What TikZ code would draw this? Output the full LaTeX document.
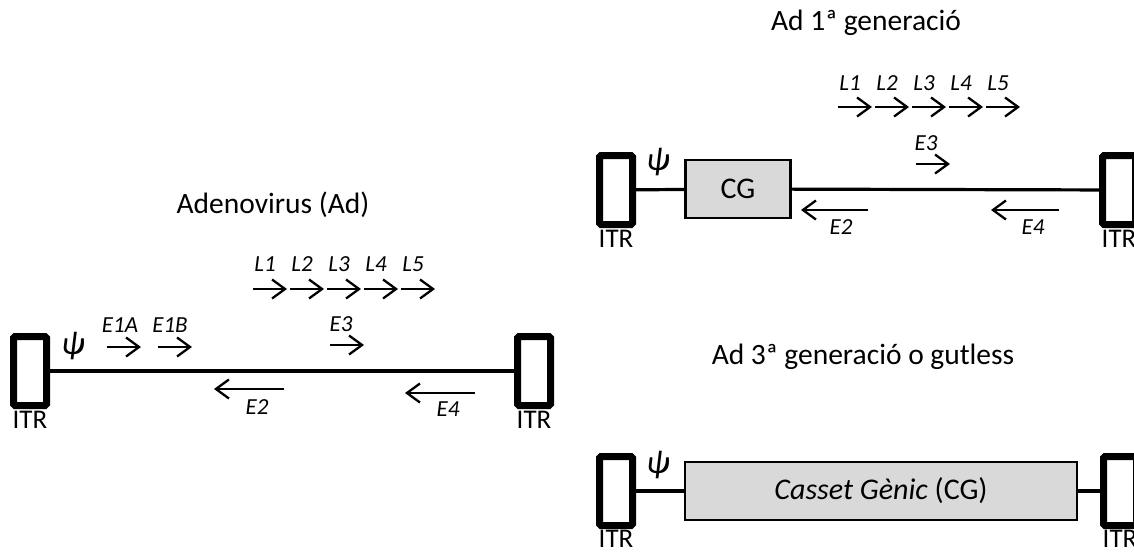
\documentclass[tikz,border=0pt]{standalone}
\usepackage{fontspec}
\setmainfont{Carlito}
\usetikzlibrary{arrows.meta,positioning}
\tikzset{
  itr/.style={draw, line width=7pt, rounded corners=1.5pt, minimum width=33pt, minimum height=69pt, inner sep=0pt},
  cgbox/.style={draw, line width=2.5pt, fill=black!15, minimum height=58pt, inner sep=0pt},
  dna/.style={line width=3.2pt},
  gene/.style={line width=2.3pt, -{Straight Barb[length=13pt, width=19pt]}},
  lab/.style={font=\fontsize{23}{27}\selectfont\itshape, inner sep=0pt},
  ttl/.style={font=\fontsize{29.5}{34}\selectfont, inner sep=0pt},
  itrlab/.style={font=\fontsize{27}{30}\selectfont, inner sep=0pt},
  psi/.style={font=\fontsize{33}{36}\selectfont\itshape, inner sep=0pt},
  cgtext/.style={font=\fontsize{30}{34}\selectfont}
}
\begin{document}
\begin{tikzpicture}[x=1pt,y=-1pt]
\useasboundingbox (0,0) rectangle (1134,554);
\clip (0,0) rectangle (1134,554);

% ---------------- Left: Adenovirus (Ad) ----------------
\node[ttl] (t1) at (273,205) {Adenovirus (Ad)};
\node[itr] (a1) at (30,371) {};
\node[itr] (b1) at (534,371) {};
\draw[dna] (a1) -- (b1);
\node[itrlab, below=2pt of a1] (la1) {ITR};
\node[itrlab, below=2pt of b1] (lb1) {ITR};
\node[psi] (p1) at (73,346) {ψ};
% early genes
\draw[gene] (107,347) -- ++(34,0);
\node[lab] (e1a) at (120,325) {E1A};
\draw[gene] (158,347) -- ++(34,0);
\node[lab] (e1b) at (170,325) {E1B};
\draw[gene] (330,345) -- ++(34,0);
\node[lab] (e3a) at (341,324) {E3};
\draw[gene] (284,389) -- (214,389);
\node[lab] (e2a) at (257,407) {E2};
\draw[gene] (475,393) -- (405,393);
\node[lab] (e4a) at (448,409) {E4};
% late genes
\foreach \x/\n in {253/1,290/2,327/3,364/4,401/5}{
  \draw[gene] (\x,289) -- ++(34,0);
  \node[lab] (la\n) at (\x+12,264) {L\n};
}

% ---------------- Top right: Ad 1a generacio ----------------
\node[ttl] (t2) at (866,23) {Ad 1ª generació};
\node[itr] (a2) at (616,190) {};
\node[itr] (b2) at (1119,190) {};
\node[cgbox, minimum width=105pt] (cg2) at (738,189) {};
\node[cgtext] at (cg2.center) {CG};
\draw[dna] (a2) -- (cg2);
\draw[dna] (cg2) -- (b2);
\node[itrlab, below=2pt of a2] (la2) {ITR};
\node[itrlab, below=2pt of b2] (lb2) {ITR};
\node[psi] (p2) at (658,162) {ψ};
\foreach \x/\n in {838/1,875/2,912/3,949/4,986/5}{
  \draw[gene] (\x,107) -- ++(34,0);
  \node[lab] (lb\n) at (\x+12,83) {L\n};
}
\draw[gene] (916,164) -- ++(34,0);
\node[lab] (e3b) at (926,143) {E3};
\draw[gene] (868,210) -- (801,210);
\node[lab] (e2b) at (841,227) {E2};
\draw[gene] (1059,210) -- (991,210);
\node[lab] (e4b) at (1033,227) {E4};

% ---------------- Bottom right: gutless ----------------
\node[ttl] (t3) at (863,357) {Ad 3ª generació o gutless};
\node[itr] (a3) at (616,491) {};
\node[itr] (b3) at (1120,491) {};
\node[cgbox, minimum width=392pt] (cg3) at (881,491) {};
\node[cgtext] at (cg3.center) {\textit{Casset Gènic} (CG)};
\draw[dna] (a3) -- (cg3);
\draw[dna] (cg3) -- (b3);
\node[itrlab, below=1pt of a3] (la3) {ITR};
\node[itrlab, below=1pt of b3] (lb3) {ITR};
\node[psi] (p3) at (658,465) {ψ};
\end{tikzpicture}
\end{document}
